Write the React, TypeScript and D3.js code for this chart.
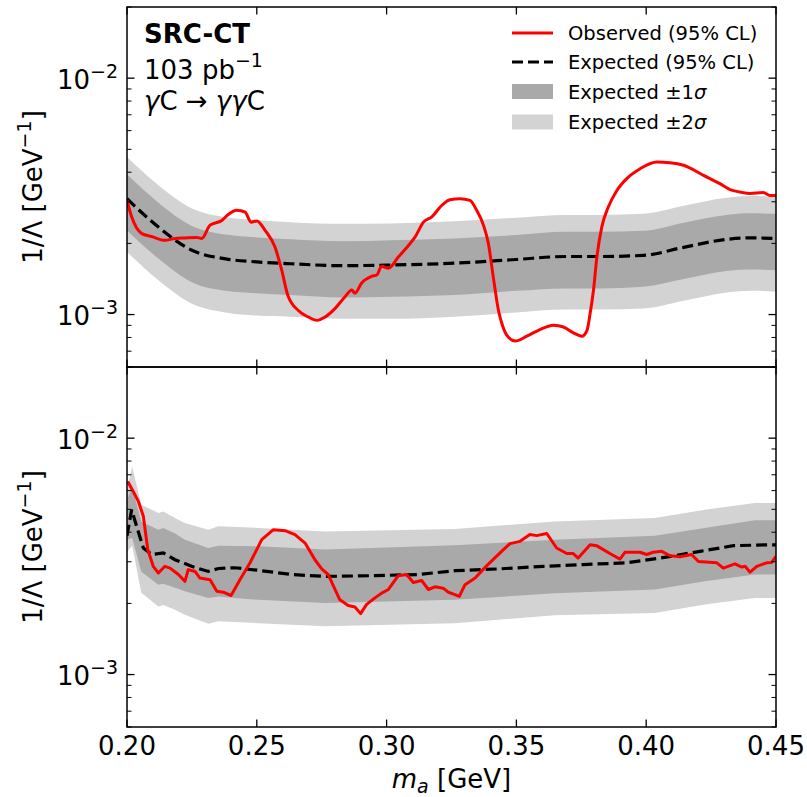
import React from 'react';
import * as d3 from 'd3';

// ---------------- data (1/Lambda in units of 1e-3 GeV^-1, mass in GeV) ----------------
const MASS_TICKS = [0.2, 0.25, 0.3, 0.35, 0.4, 0.45];
const MASS_TICK_LABELS = ['0.20', '0.25', '0.30', '0.35', '0.40', '0.45'];

// Top panel
const TOP_BAND_MASS = [0.200, 0.212, 0.225, 0.238, 0.250, 0.263, 0.283, 0.302, 0.326, 0.350, 0.369, 0.382, 0.399, 0.414, 0.431, 0.440, 0.450];
const TOP_EXP = [3.09, 2.35, 1.87, 1.72, 1.67, 1.64, 1.61, 1.62, 1.65, 1.71, 1.76, 1.76, 1.78, 1.92, 2.08, 2.11, 2.10];
const TOP_2S_HI = [4.64, 3.53, 2.81, 2.58, 2.51, 2.46, 2.42, 2.43, 2.48, 2.57, 2.64, 2.64, 2.67, 2.88, 3.12, 3.17, 3.15];
const TOP_1S_HI = [3.92, 2.98, 2.37, 2.18, 2.12, 2.08, 2.04, 2.06, 2.10, 2.17, 2.24, 2.24, 2.26, 2.44, 2.64, 2.68, 2.67];
const TOP_1S_LO = [2.27, 1.73, 1.37, 1.26, 1.23, 1.21, 1.18, 1.19, 1.21, 1.26, 1.29, 1.29, 1.31, 1.41, 1.53, 1.55, 1.54];
const TOP_2S_LO = [1.84, 1.40, 1.11, 1.02, 0.99, 0.98, 0.96, 0.96, 0.98, 1.02, 1.05, 1.05, 1.06, 1.14, 1.24, 1.26, 1.25];

const TOP_OBS_MASS = [0.2000, 0.2018, 0.2057, 0.2095, 0.2146, 0.2185, 0.2223, 0.2268, 0.2288, 0.2320, 0.2365, 0.2390, 0.2423, 0.2455, 0.2478, 0.2500, 0.2532, 0.2570, 0.2596, 0.2619, 0.2660, 0.2698, 0.2731, 0.2763, 0.2801, 0.2840, 0.2866, 0.2878, 0.2904, 0.2942, 0.2962, 0.2981, 0.3007, 0.3045, 0.3084, 0.3110, 0.3142, 0.3174, 0.3213, 0.3244, 0.3283, 0.3321, 0.3347, 0.3373, 0.3392, 0.3411, 0.3431, 0.3444, 0.3463, 0.3495, 0.3540, 0.3585, 0.3643, 0.3681, 0.3720, 0.3752, 0.3772, 0.3784, 0.3797, 0.3810, 0.3829, 0.3854, 0.3887, 0.3925, 0.3977, 0.4041, 0.4092, 0.4144, 0.4221, 0.4284, 0.4323, 0.4361, 0.4400, 0.4451, 0.4477, 0.4500];
const TOP_OBS = [3.04, 2.59, 2.20, 2.14, 2.06, 2.10, 2.11, 2.12, 2.10, 2.39, 2.50, 2.65, 2.76, 2.71, 2.46, 2.49, 2.27, 1.93, 1.54, 1.21, 1.04, 0.977, 0.946, 0.977, 1.06, 1.19, 1.27, 1.23, 1.36, 1.45, 1.47, 1.60, 1.57, 1.75, 1.96, 2.13, 2.46, 2.59, 2.90, 3.06, 3.09, 3.04, 2.76, 2.39, 2.00, 1.44, 1.04, 0.916, 0.818, 0.773, 0.810, 0.858, 0.901, 0.886, 0.836, 0.810, 0.858, 1.01, 1.27, 1.75, 2.35, 2.85, 3.35, 3.76, 4.14, 4.42, 4.39, 4.28, 3.88, 3.58, 3.38, 3.30, 3.25, 3.28, 3.19, 3.19];

// Bottom panel
const BOT_BAND_MASS = [0.200, 0.202, 0.2055, 0.2121, 0.214, 0.2185, 0.2223, 0.2313, 0.2352, 0.2506, 0.2763, 0.3263, 0.3648, 0.4033, 0.4226, 0.4418, 0.450];
const BOT_2S_HI = [6.05, 7.57, 5.23, 4.83, 4.90, 4.60, 4.38, 4.10, 4.24, 4.17, 4.03, 4.13, 4.44, 4.60, 4.98, 5.32, 5.32];
const BOT_1S_HI = [5.49, 6.23, 4.43, 4.10, 4.17, 3.95, 3.72, 3.43, 3.51, 3.49, 3.38, 3.52, 3.72, 3.87, 4.17, 4.49, 4.49];
const BOT_1S_LO = [3.72, 3.79, 2.72, 2.40, 2.42, 2.33, 2.25, 2.11, 2.14, 2.07, 2.01, 2.07, 2.21, 2.29, 2.48, 2.65, 2.65];
const BOT_2S_LO = [3.31, 3.51, 2.22, 1.94, 1.97, 1.88, 1.79, 1.64, 1.68, 1.65, 1.60, 1.65, 1.78, 1.82, 1.98, 2.11, 2.11];

const BOT_EXP_MASS = [0.2000, 0.2018, 0.2037, 0.2063, 0.2095, 0.2140, 0.2185, 0.2249, 0.2313, 0.2352, 0.2416, 0.2506, 0.2634, 0.2763, 0.2955, 0.3122, 0.3263, 0.3437, 0.3604, 0.3758, 0.3925, 0.4053, 0.4207, 0.4336, 0.4477, 0.4500];
const BOT_EXP = [3.87, 4.98, 4.24, 3.43, 3.22, 3.27, 3.06, 2.87, 2.73, 2.81, 2.83, 2.76, 2.65, 2.60, 2.62, 2.65, 2.75, 2.80, 2.87, 2.92, 2.97, 3.11, 3.32, 3.51, 3.54, 3.54];

const BOT_OBS_MASS = [0.2003, 0.2024, 0.2044, 0.2063, 0.2080, 0.2101, 0.2121, 0.2146, 0.2166, 0.2198, 0.2223, 0.2236, 0.2262, 0.2281, 0.2320, 0.2346, 0.2371, 0.2401, 0.2435, 0.2474, 0.2519, 0.2564, 0.2609, 0.2647, 0.2686, 0.2724, 0.2750, 0.2775, 0.2820, 0.2852, 0.2878, 0.2900, 0.2923, 0.2955, 0.2981, 0.3007, 0.3045, 0.3077, 0.3103, 0.3135, 0.3161, 0.3186, 0.3218, 0.3238, 0.3263, 0.3280, 0.3302, 0.3341, 0.3386, 0.3437, 0.3475, 0.3514, 0.3552, 0.3578, 0.3617, 0.3655, 0.3694, 0.3719, 0.3738, 0.3784, 0.3809, 0.3860, 0.3899, 0.3918, 0.3976, 0.4002, 0.4027, 0.4060, 0.4092, 0.4130, 0.4175, 0.4201, 0.4272, 0.4297, 0.4342, 0.4368, 0.4381, 0.4400, 0.4426, 0.4464, 0.4483, 0.4500];
const BOT_OBS = [6.56, 5.95, 5.40, 4.67, 3.38, 2.87, 2.69, 2.87, 2.82, 2.65, 2.48, 2.78, 2.73, 2.56, 2.52, 2.25, 2.23, 2.16, 2.52, 2.97, 3.72, 4.10, 4.06, 3.91, 3.60, 3.06, 2.80, 2.65, 2.07, 1.96, 1.93, 1.81, 1.98, 2.11, 2.21, 2.29, 2.62, 2.65, 2.45, 2.50, 2.29, 2.35, 2.32, 2.23, 2.18, 2.14, 2.40, 2.56, 2.89, 3.27, 3.58, 3.66, 3.91, 3.87, 3.95, 3.43, 3.25, 3.25, 3.11, 3.54, 3.51, 3.25, 3.08, 3.29, 3.29, 3.22, 3.29, 3.32, 3.18, 3.15, 3.22, 3.01, 2.97, 2.82, 2.94, 2.85, 2.87, 2.71, 2.87, 2.97, 2.98, 3.16];

const LEGEND_LABELS = ['Observed (95% CL)', 'Expected (95% CL)', 'Expected \u00b11', 'Expected \u00b12'];

// ---------------- layout ----------------
const W = 807;
const H = 797;
const X0 = 127;
const X1 = 776;
const UNIT = 1e-3;
const FONT = 'DejaVu Sans';
const LIGHT = '#d3d3d3';
const DARK = '#a9a9a9';
const DASH_W = 3.2;
const DASH = '11 5';

const x = d3.scaleLinear().domain([0.2, 0.45]).range([X0, X1]);

type PanelProps = {
  top: number;
  bottom: number;
  bandMass: number[];
  hi2: number[];
  lo2: number[];
  hi1: number[];
  lo1: number[];
  expMass: number[];
  exp: number[];
  obsMass: number[];
  obs: number[];
  smooth: boolean;
  showXLabels: boolean;
  id: string;
};

function Panel(p: PanelProps) {
  const y = d3.scaleLog().domain([6e-4, 2e-2]).range([p.bottom, p.top]);
  const curve = p.smooth ? d3.curveMonotoneX : d3.curveLinear;
  const band = (lo: number[], hi: number[]) =>
    d3
      .area<number>()
      .x((_, i) => x(p.bandMass[i]))
      .y0((_, i) => y(lo[i] * UNIT))
      .y1((_, i) => y(hi[i] * UNIT))
      .curve(curve)(p.bandMass) || '';
  const line = (ms: number[], vs: number[], c: d3.CurveFactory) =>
    d3
      .line<number>()
      .x((_, i) => x(ms[i]))
      .y((_, i) => y(vs[i] * UNIT))
      .curve(c)(ms) || '';

  const majors = [1e-3, 1e-2];
  const minors: number[] = [];
  for (let e = -4; e <= -2; e++) {
    for (let k = 2; k <= 9; k++) {
      const v = k * Math.pow(10, e);
      if (v >= 6e-4 && v <= 2e-2) minors.push(v);
    }
  }
  const clipId = `clip-${p.id}`;
  const majLen = 7.5;
  const minLen = 4.5;
  return (
    <g>
      <defs>
        <clipPath id={clipId}>
          <rect x={X0} y={p.top} width={X1 - X0} height={p.bottom - p.top} />
        </clipPath>
      </defs>
      <g clipPath={`url(#${clipId})`}>
        <path d={band(p.lo2, p.hi2)} fill={LIGHT} />
        <path d={band(p.lo1, p.hi1)} fill={DARK} />
        <path
          d={line(p.expMass, p.exp, curve)}
          fill="none"
          stroke="#000"
          strokeWidth={DASH_W}
          strokeDasharray={DASH}
        />
        <path
          d={line(p.obsMass, p.obs, curve)}
          fill="none"
          stroke="#ff0000"
          strokeWidth={3}
          strokeLinejoin="round"
        />
      </g>
      {/* ticks */}
      {MASS_TICKS.map((t) => (
        <g key={`xt${t}`} stroke="#000" strokeWidth={1.3}>
          <line x1={x(t)} x2={x(t)} y1={p.bottom} y2={p.bottom - majLen} />
          <line x1={x(t)} x2={x(t)} y1={p.top} y2={p.top + majLen} />
        </g>
      ))}
      {majors.map((v) => (
        <g key={`ym${v}`} stroke="#000" strokeWidth={1.3}>
          <line x1={X0} x2={X0 + majLen} y1={y(v)} y2={y(v)} />
          <line x1={X1} x2={X1 - majLen} y1={y(v)} y2={y(v)} />
        </g>
      ))}
      {minors.map((v) => (
        <g key={`yn${v}`} stroke="#000" strokeWidth={1}>
          <line x1={X0} x2={X0 + minLen} y1={y(v)} y2={y(v)} />
          <line x1={X1} x2={X1 - minLen} y1={y(v)} y2={y(v)} />
        </g>
      ))}
      {majors.map((v) => (
        <text
          key={`yl${v}`}
          x={118}
          y={y(v) + 10.5}
          textAnchor="end"
          fontFamily={FONT}
          fontSize={26}
          fill="#000"
        >
          10
          <tspan fontSize={19} dy={-11}>
            {'\u2212' + String(-Math.round(Math.log10(v)))}
          </tspan>
        </text>
      ))}
      {p.showXLabels &&
        MASS_TICKS.map((t, i) => (
          <text
            key={`xl${t}`}
            x={x(t)}
            y={755}
            textAnchor="middle"
            fontFamily={FONT}
            fontSize={26}
            fill="#000"
          >
            {MASS_TICK_LABELS[i]}
          </text>
        ))}
      <rect
        x={X0}
        y={p.top}
        width={X1 - X0}
        height={p.bottom - p.top}
        fill="none"
        stroke="#000"
        strokeWidth={1.5}
      />
      <text
        transform={`translate(42,${(p.top + p.bottom) / 2}) rotate(-90)`}
        textAnchor="middle"
        fontFamily={FONT}
        fontSize={26}
        fill="#000"
      >
        1/Λ [GeV
        <tspan fontSize={19} dy={-11}>
          {'\u22121'}
        </tspan>
        <tspan dy={11}>]</tspan>
      </text>
    </g>
  );
}

function Legend() {
  const hx0 = 512;
  const hx1 = 553;
  const tx = 568;
  const baselines = [40, 69, 98.5, 129];
  const fs = 19.5;
  return (
    <g fontFamily={FONT} fontSize={fs} fill="#000">
      <line x1={hx0} x2={hx1} y1={baselines[0] - 7} y2={baselines[0] - 7} stroke="#ff0000" strokeWidth={3} />
      <line
        x1={hx0}
        x2={hx1}
        y1={baselines[1] - 7}
        y2={baselines[1] - 7}
        stroke="#000"
        strokeWidth={DASH_W}
        strokeDasharray={DASH}
      />
      <rect x={hx0} y={baselines[2] - 14.5} width={hx1 - hx0} height={15} fill={DARK} />
      <rect x={hx0} y={baselines[3] - 14.5} width={hx1 - hx0} height={15} fill={LIGHT} />
      <text x={tx} y={baselines[0]}>{LEGEND_LABELS[0]}</text>
      <text x={tx} y={baselines[1]}>{LEGEND_LABELS[1]}</text>
      <text x={tx} y={baselines[2]}>
        {LEGEND_LABELS[2]}
        <tspan fontStyle="italic">σ</tspan>
      </text>
      <text x={tx} y={baselines[3]}>
        {LEGEND_LABELS[3]}
        <tspan fontStyle="italic">σ</tspan>
      </text>
    </g>
  );
}

export default function App() {
  return (
    <svg
      width={W}
      height={H}
      viewBox={`0 0 ${W} ${H}`}
      style={{ position: 'absolute', left: 0, top: 0, background: '#fff' }}
    >
      <rect x={0} y={0} width={W} height={H} fill="#fff" />
      <Panel
        id="top"
        top={7}
        bottom={367}
        bandMass={TOP_BAND_MASS}
        hi2={TOP_2S_HI}
        lo2={TOP_2S_LO}
        hi1={TOP_1S_HI}
        lo1={TOP_1S_LO}
        expMass={TOP_BAND_MASS}
        exp={TOP_EXP}
        obsMass={TOP_OBS_MASS}
        obs={TOP_OBS}
        smooth={true}
        showXLabels={false}
      />
      <Panel
        id="bot"
        top={367}
        bottom={727}
        bandMass={BOT_BAND_MASS}
        hi2={BOT_2S_HI}
        lo2={BOT_2S_LO}
        hi1={BOT_1S_HI}
        lo1={BOT_1S_LO}
        expMass={BOT_EXP_MASS}
        exp={BOT_EXP}
        obsMass={BOT_OBS_MASS}
        obs={BOT_OBS}
        smooth={false}
        showXLabels={true}
      />
      <Legend />
      <g fontFamily={FONT} fill="#000">
        <text x={144} y={43} fontSize={26} fontWeight="bold">
          SRC-CT
        </text>
        <text x={144} y={79} fontSize={26}>
          103 pb
          <tspan fontSize={19} dy={-12}>
            {'\u22121'}
          </tspan>
        </text>
        <text x={144} y={110} fontSize={26}>
          <tspan fontStyle="italic">γ</tspan>C → <tspan fontStyle="italic">γγ</tspan>C
        </text>
      </g>
      <text x={451.5} y={788} textAnchor="middle" fontFamily={FONT} fontSize={26} fill="#000">
        <tspan fontStyle="italic">m</tspan>
        <tspan fontStyle="italic" fontSize={19} dy={5}>
          a
        </tspan>
        <tspan dy={-5}> [GeV]</tspan>
      </text>
    </svg>
  );
}
